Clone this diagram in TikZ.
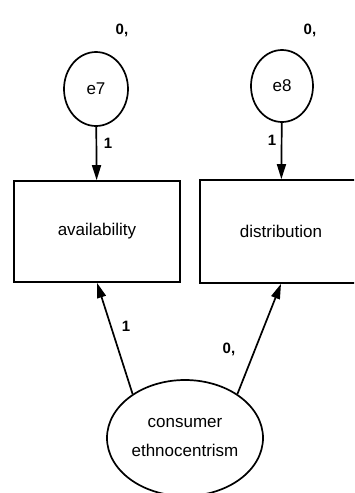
\documentclass[tikz,border=0pt]{standalone}
\usepackage{fontspec}
\setmainfont{Liberation Sans}
\usetikzlibrary{arrows.meta,shapes.geometric}
\begin{document}
\begin{tikzpicture}[x=1pt,y=-1pt,
  every node/.style={font=\fontsize{17}{29}\selectfont},
  latent/.style={draw,ellipse,line width=1.7pt,inner sep=0pt,align=center},
  observed/.style={draw,rectangle,line width=1.7pt,inner sep=0pt},
  regpath/.style={line width=1.7pt,-{Triangle[length=15pt,width=9pt]}},
  coef/.style={font=\fontsize{15}{17}\selectfont\bfseries},
]
\useasboundingbox (0,0) rectangle (354,493);
\begin{scope}
\clip (0,0) rectangle (354,493);
% error terms
\node[latent,minimum width=64pt,minimum height=74pt] (e7) at (96,89) {e7};
\node[latent,minimum width=62pt,minimum height=72pt] (e8) at (282,86) {e8};
% observed variables
\node[observed,minimum width=166pt,minimum height=101pt] (avail) at (97,231.5) {availability};
\node[observed,minimum width=162pt,minimum height=103pt] (dist) at (281,231.5) {distribution};
% latent factor
\node[latent,minimum width=156pt,minimum height=116pt] (ce) at (185,438) {consumer\\ethnocentrism};
% paths
\draw[regpath] (e7) -- (avail);
\draw[regpath] (e8) -- (dist);
\draw[regpath] (ce.140) -- (avail.south);
\draw[regpath] (ce.40) -- (dist.south);
% estimates
\node[coef] (v7) at (122,30) {0,};
\node[coef] (v8) at (310,30) {0,};
\node[coef] (l7) at (108,143) {1};
\node[coef] (l8) at (272,140) {1};
\node[coef] (la) at (126,326) {1};
\node[coef] (ld) at (229,349) {0,};
\end{scope}
\end{tikzpicture}
\end{document}
